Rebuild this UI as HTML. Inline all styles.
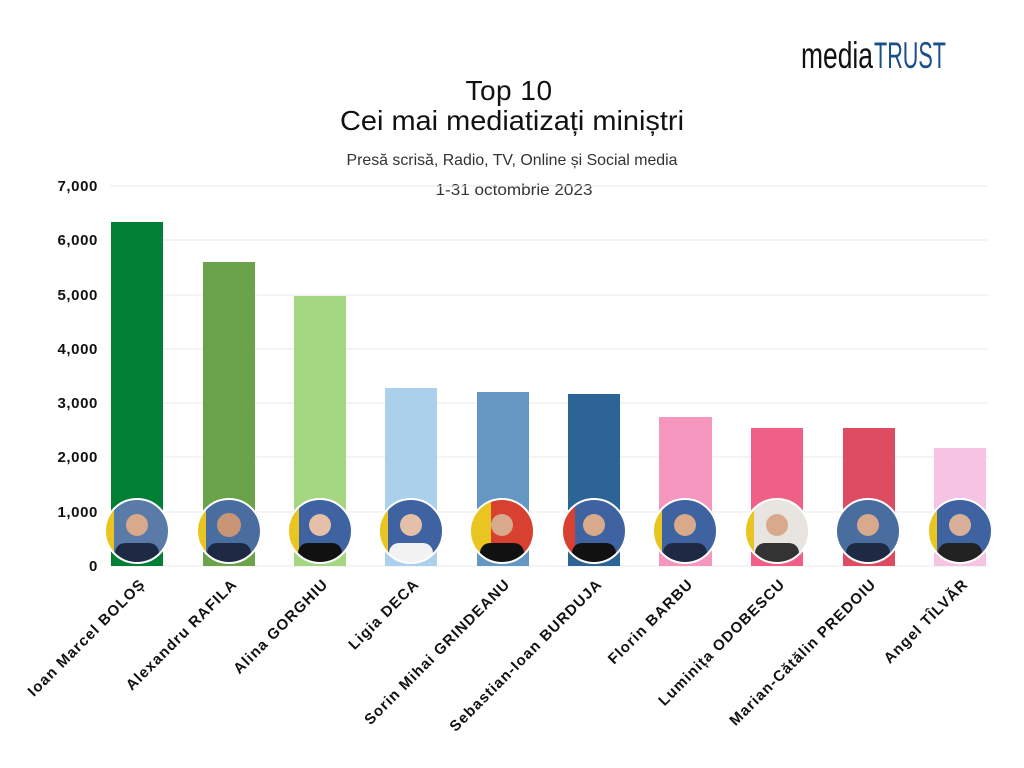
<!DOCTYPE html>
<html><head><meta charset="utf-8"><style>
body{margin:0;background:#fff;}
svg{display:block;font-family:"Liberation Sans",sans-serif;}
</style></head><body>
<svg width="1024" height="768" viewBox="0 0 1024 768" xmlns="http://www.w3.org/2000/svg">
<text x="801" y="68" font-size="37" fill="#111" textLength="72" lengthAdjust="spacingAndGlyphs">media</text>
<text x="874" y="68" font-size="37" fill="#1b4f8a" textLength="72" lengthAdjust="spacingAndGlyphs">TRUST</text>
<text x="509" y="100" font-size="28" text-anchor="middle" fill="#111" letter-spacing="0.5">Top 10</text>
<text x="512" y="130" font-size="28" text-anchor="middle" fill="#111" textLength="344" lengthAdjust="spacingAndGlyphs">Cei mai mediatizați miniștri</text>
<text x="512" y="165" font-size="16" text-anchor="middle" fill="#333" textLength="331" lengthAdjust="spacingAndGlyphs">Presă scrisă, Radio, TV, Online și Social media</text>
<text x="514" y="195" font-size="16" text-anchor="middle" fill="#333" textLength="157" lengthAdjust="spacingAndGlyphs">1-31 octombrie 2023</text>
<g stroke="#e8e8e8" stroke-width="1">
<line x1="110" y1="186" x2="988" y2="186"/><line x1="110" y1="240" x2="988" y2="240"/>
<line x1="110" y1="295" x2="988" y2="295"/><line x1="110" y1="349" x2="988" y2="349"/>
<line x1="110" y1="403" x2="988" y2="403"/><line x1="110" y1="457" x2="988" y2="457"/>
<line x1="110" y1="512" x2="988" y2="512"/><line x1="110" y1="566" x2="988" y2="566"/>
</g>
<g font-size="15" font-weight="bold" text-anchor="end" fill="#111" letter-spacing="0.6">
<text x="98" y="191">7,000</text><text x="98" y="245">6,000</text><text x="98" y="300">5,000</text>
<text x="98" y="354">4,000</text><text x="98" y="408">3,000</text><text x="98" y="462">2,000</text>
<text x="98" y="517">1,000</text><text x="98" y="571">0</text>
</g>
<g>
<rect x="111" y="222" width="52" height="344" fill="#007f35"/>
<rect x="203" y="262" width="52" height="304" fill="#6aa34a"/>
<rect x="294" y="296" width="52" height="270" fill="#a5d783"/>
<rect x="385" y="388" width="52" height="178" fill="#aad0ec"/>
<rect x="477" y="392" width="52" height="174" fill="#6497c2"/>
<rect x="568" y="394" width="52" height="172" fill="#2d6496"/>
<rect x="659" y="417" width="53" height="149" fill="#f596bf"/>
<rect x="751" y="428" width="52" height="138" fill="#ef5f86"/>
<rect x="843" y="428" width="52" height="138" fill="#de4c62"/>
<rect x="934" y="448" width="52" height="118" fill="#f7c3e2"/>
</g>
<defs><clipPath id="c"><circle cx="0" cy="0" r="32"/></clipPath></defs>
<g>
<g transform="translate(137,531)"><g clip-path="url(#c)"><rect x="-33" y="-33" width="66" height="66" fill="#5a7aa8"/><rect x="-33" y="-33" width="10" height="66" fill="#e8c520"/><circle cx="0" cy="-6" r="11" fill="#d8a98a"/><rect x="-22" y="12" width="44" height="24" rx="10" fill="#1e2a44"/></g><circle r="32" fill="none" stroke="#fff" stroke-width="2"/></g>
<g transform="translate(229,531)"><g clip-path="url(#c)"><rect x="-33" y="-33" width="66" height="66" fill="#4a6da0"/><rect x="-33" y="-33" width="10" height="66" fill="#e8c520"/><circle cx="0" cy="-6" r="12" fill="#c99577"/><rect x="-22" y="12" width="44" height="24" rx="10" fill="#1e2a44"/></g><circle r="32" fill="none" stroke="#fff" stroke-width="2"/></g>
<g transform="translate(320,531)"><g clip-path="url(#c)"><rect x="-33" y="-33" width="66" height="66" fill="#3f62a0"/><rect x="-33" y="-33" width="12" height="66" fill="#e8c520"/><circle cx="0" cy="-6" r="11" fill="#e4c0a8"/><rect x="-22" y="12" width="44" height="24" rx="10" fill="#111"/></g><circle r="32" fill="none" stroke="#fff" stroke-width="2"/></g>
<g transform="translate(411,531)"><g clip-path="url(#c)"><rect x="-33" y="-33" width="66" height="66" fill="#3f62a0"/><rect x="-33" y="-33" width="10" height="66" fill="#e8c520"/><circle cx="0" cy="-6" r="11" fill="#e4c0a8"/><rect x="-22" y="12" width="44" height="24" rx="10" fill="#f2f2f2"/></g><circle r="32" fill="none" stroke="#fff" stroke-width="2"/></g>
<g transform="translate(502,531)"><g clip-path="url(#c)"><rect x="-33" y="-33" width="66" height="66" fill="#d84030"/><rect x="-33" y="-33" width="22" height="66" fill="#e8c520"/><circle cx="0" cy="-6" r="11" fill="#d8a98a"/><rect x="-22" y="12" width="44" height="24" rx="10" fill="#111"/></g><circle r="32" fill="none" stroke="#fff" stroke-width="2"/></g>
<g transform="translate(594,531)"><g clip-path="url(#c)"><rect x="-33" y="-33" width="66" height="66" fill="#3f62a0"/><rect x="-33" y="-33" width="14" height="66" fill="#d84030"/><circle cx="0" cy="-6" r="11" fill="#d8a98a"/><rect x="-22" y="12" width="44" height="24" rx="10" fill="#111"/></g><circle r="32" fill="none" stroke="#fff" stroke-width="2"/></g>
<g transform="translate(685,531)"><g clip-path="url(#c)"><rect x="-33" y="-33" width="66" height="66" fill="#3f62a0"/><rect x="-33" y="-33" width="10" height="66" fill="#e8c520"/><circle cx="0" cy="-6" r="11" fill="#d8a98a"/><rect x="-22" y="12" width="44" height="24" rx="10" fill="#1e2a44"/></g><circle r="32" fill="none" stroke="#fff" stroke-width="2"/></g>
<g transform="translate(777,531)"><g clip-path="url(#c)"><rect x="-33" y="-33" width="66" height="66" fill="#e8e4e0"/><rect x="-33" y="-33" width="10" height="66" fill="#e8c520"/><circle cx="0" cy="-6" r="11" fill="#d8a98a"/><rect x="-22" y="12" width="44" height="24" rx="10" fill="#333"/></g><circle r="32" fill="none" stroke="#fff" stroke-width="2"/></g>
<g transform="translate(868,531)"><g clip-path="url(#c)"><rect x="-33" y="-33" width="66" height="66" fill="#4a6da0"/><circle cx="0" cy="-6" r="11" fill="#d8a98a"/><rect x="-22" y="12" width="44" height="24" rx="10" fill="#1e2a44"/></g><circle r="32" fill="none" stroke="#fff" stroke-width="2"/></g>
<g transform="translate(960,531)"><g clip-path="url(#c)"><rect x="-33" y="-33" width="66" height="66" fill="#3f62a0"/><rect x="-33" y="-33" width="10" height="66" fill="#e8c520"/><circle cx="0" cy="-6" r="11" fill="#d8b09a"/><rect x="-22" y="12" width="44" height="24" rx="10" fill="#222"/></g><circle r="32" fill="none" stroke="#fff" stroke-width="2"/></g>
</g>
<g font-size="15" font-weight="bold" fill="#111" text-anchor="end" letter-spacing="1.1">
<text transform="translate(146,585) rotate(-45)">Ioan Marcel BOLOȘ</text>
<text transform="translate(238,585) rotate(-45)">Alexandru RAFILA</text>
<text transform="translate(329,585) rotate(-45)">Alina GORGHIU</text>
<text transform="translate(420,585) rotate(-45)">Ligia DECA</text>
<text transform="translate(511,585) rotate(-45)">Sorin Mihai GRINDEANU</text>
<text transform="translate(603,585) rotate(-45)">Sebastian-Ioan BURDUJA</text>
<text transform="translate(694,585) rotate(-45)">Florin BARBU</text>
<text transform="translate(786,585) rotate(-45)">Luminița ODOBESCU</text>
<text transform="translate(877,585) rotate(-45)">Marian-Cătălin PREDOIU</text>
<text transform="translate(969,585) rotate(-45)">Angel TÎLVĂR</text>
</g>
</svg>
</body></html>
